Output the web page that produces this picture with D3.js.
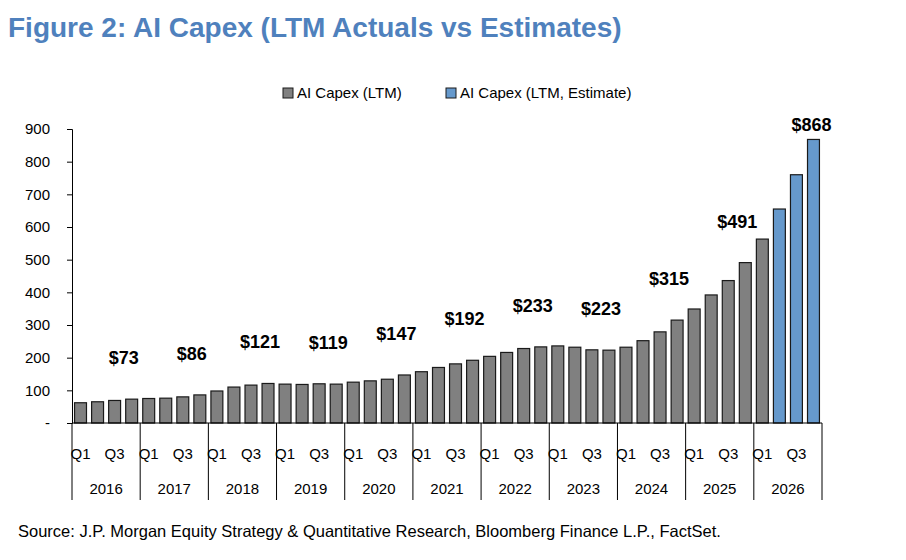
<!DOCTYPE html>
<html><head><meta charset="utf-8">
<script src="https://cdn.jsdelivr.net/npm/d3@7"></script>
<style>body{margin:0;background:#fff}</style>
</head><body>
<svg id="svg" width="906" height="560"></svg>
<script>
const years = ['2016','2017','2018','2019','2020','2021','2022','2023','2024','2025','2026'];
const quarters = ['Q1','Q2','Q3','Q4'];
const actuals = [62,65,69,73, 75,76,80,86, 98,110,116,121, 119,118,120,119,
  125,129,134,147, 157,170,181,192, 204,216,228,233, 236,232,224,223,
  232,252,279,315, 349,392,436,491, 563];
const estimates = [655,760,868];
const yTicks = [0,100,200,300,400,500,600,700,800,900];

const data = [];
years.forEach((y, yi) => quarters.forEach((q, qi) => {
  const i = yi * 4 + qi;
  const est = i >= actuals.length;
  data.push({key: y + q, year: y, q, value: est ? estimates[i - actuals.length] : actuals[i], est});
}));

const plotLeft = 72, plotRight = 822, plotTop = 129, plotBottom = 423;
const font = "'Liberation Sans', Arial, sans-serif";
const narrow = "'Liberation Sans Narrow', 'Liberation Sans', sans-serif";
const svg = d3.select('#svg');

svg.append('text').attr('x', 8).attr('y', 37)
  .attr('font-family', narrow)
  .attr('font-weight', 'bold').attr('font-size', 28).attr('fill', '#4f81bd')
  .text('Figure 2: AI Capex (LTM Actuals vs Estimates)');

const x = d3.scaleBand().domain(data.map(d => d.key)).range([plotLeft, plotRight]).paddingInner(0.3).paddingOuter(0.15);
const y = d3.scaleLinear().domain([0, 900]).range([plotBottom, plotTop]);

// y axis
const ya = svg.append('g').attr('transform', `translate(${plotLeft},0)`)
  .call(d3.axisLeft(y).tickValues(yTicks).tickSize(5).tickFormat(d => d === 0 ? '-' : d));
ya.select('.domain').attr('stroke', '#000');
ya.selectAll('text').attr('font-family', font).attr('font-size', 15).attr('fill', '#000').attr('x', -22).attr('text-anchor', 'end');
ya.selectAll('line').attr('stroke', '#000');

// bars
svg.append('g').selectAll('rect').data(data).enter().append('rect')
  .attr('x', d => x(d.key)).attr('width', x.bandwidth())
  .attr('y', d => y(d.value)).attr('height', d => y(0) - y(d.value))
  .attr('fill', d => d.est ? '#6699cc' : '#808080')
  .attr('stroke', '#1a1a1a').attr('stroke-width', 1.2);

// labels on Q4
svg.append('g').selectAll('text').data(data.filter(d => d.q === 'Q4')).enter().append('text')
  .attr('x', d => x(d.key) + x.bandwidth() / 2 - (d.est ? 2 : 8)).attr('y', d => y(d.value) - (d.est ? 8 : 35))
  .attr('text-anchor', 'middle').attr('font-family', narrow)
  .attr('font-weight', 'bold').attr('font-size', 18).text(d => '$' + d.value);

// category axis
svg.append('line').attr('x1', plotLeft).attr('x2', plotRight).attr('y1', plotBottom).attr('y2', plotBottom).attr('stroke', '#000');
const step = x.step();
const yearEdge = yi => yi === years.length ? plotRight : (yi === 0 ? plotLeft : x(years[yi] + 'Q1') - (step - x.bandwidth()) / 2);
for (let yi = 0; yi <= years.length; yi++) {
  svg.append('line').attr('x1', yearEdge(yi)).attr('x2', yearEdge(yi)).attr('y1', plotBottom).attr('y2', 500).attr('stroke', '#000');
}
svg.append('g').selectAll('text').data(data.filter(d => d.q === 'Q1' || d.q === 'Q3')).enter().append('text')
  .attr('x', d => x(d.key) + x.bandwidth() / 2).attr('y', 459).attr('text-anchor', 'middle')
  .attr('font-family', font).attr('font-size', 15).text(d => d.q);
svg.append('g').selectAll('text').data(years).enter().append('text')
  .attr('x', (d, i) => (yearEdge(i) + yearEdge(i + 1)) / 2).attr('y', 494).attr('text-anchor', 'middle')
  .attr('font-family', font).attr('font-size', 15).text(d => d);

// legend
const legend = [{t: 'AI Capex (LTM)', c: '#808080', x: 283}, {t: 'AI Capex (LTM, Estimate)', c: '#6699cc', x: 446}];
legend.forEach(l => {
  svg.append('rect').attr('x', l.x).attr('y', 88).attr('width', 10).attr('height', 10).attr('fill', l.c).attr('stroke', '#1a1a1a');
  svg.append('text').attr('x', l.x + 14).attr('y', 98).attr('font-family', font).attr('font-size', 15).text(l.t);
});

svg.append('text').attr('x', 18).attr('y', 537).attr('font-family', font).attr('font-size', 16.5)
  .text('Source: J.P. Morgan Equity Strategy & Quantitative Research, Bloomberg Finance L.P., FactSet.');
</script>
</body></html>
